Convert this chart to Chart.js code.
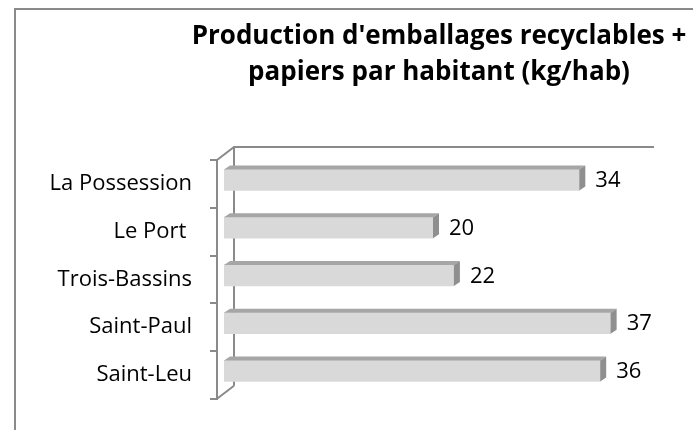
<!DOCTYPE html>
<html>
<head>
<meta charset="utf-8">
<script src="https://cdn.jsdelivr.net/npm/chart.js@4"></script>
<style>
  body { margin: 0; background: #fff; }
  canvas { display: block; }
</style>
</head>
<body>
<canvas id="chart" width="693" height="430"></canvas>
<script>
// données
const communes = ["La Possession", "Le Port ", "Trois-Bassins", "Saint-Paul", "Saint-Leu"];
const kgParHab = [34, 20, 22, 37, 36];
const titreLignes = ["Production d'emballages recyclables +", "papiers par habitant (kg/hab)"];
const axeMin = 0;
const axeMax = 40;

const gris = "#8a8a8a";
const barDepth = { dx: 7, dy: -4 };   // décalage des barres dans la profondeur
const faceDepth = { dx: 6, dy: 4 };   // épaisseur 3D des barres
const wallDepth = { dx: 17, dy: -13 }; // mur du fond

// -------------------------------
// cadre + titre
// -------------------------------
const framePlugin = {
    id: "frame",
    beforeDraw(chart) {
        const ctx = chart.ctx;
        ctx.save();
        ctx.fillStyle = "#fff";
        ctx.fillRect(0, 0, chart.width, chart.height);
        ctx.strokeStyle = gris;
        ctx.lineWidth = 2;
        ctx.strokeRect(15, 9, 800, 600);
        ctx.restore();
    },
    afterDraw(chart) {
        const ctx = chart.ctx;
        ctx.save();
        ctx.fillStyle = "#000";
        ctx.font = "bold 26px 'Open Sans'";
        ctx.textAlign = "center";
        ctx.textBaseline = "alphabetic";
        ctx.fillText(titreLignes[0], 439, 44, 504);
        ctx.fillText(titreLignes[1], 439, 80, 388);
        ctx.restore();
    }
};

// -------------------------------
// effet 3D : murs, faces des barres, étiquettes
// -------------------------------
const threeDPlugin = {
    id: "threeD",
    beforeDatasetsDraw(chart) {
        const ctx = chart.ctx;
        const a = chart.chartArea;
        ctx.save();
        ctx.strokeStyle = gris;
        ctx.lineWidth = 2;
        ctx.beginPath();
        // diagonales haut et bas
        ctx.moveTo(a.left, a.top);
        ctx.lineTo(a.left + wallDepth.dx, a.top + wallDepth.dy);
        ctx.lineTo(a.right + wallDepth.dx + 2, a.top + wallDepth.dy);
        ctx.moveTo(a.left, a.bottom);
        ctx.lineTo(a.left + wallDepth.dx, a.bottom + wallDepth.dy);
        // mur du fond
        ctx.moveTo(a.left + wallDepth.dx, a.top + wallDepth.dy);
        ctx.lineTo(a.left + wallDepth.dx, a.bottom + wallDepth.dy);
        ctx.stroke();
        ctx.restore();

        ctx.save();
        ctx.translate(barDepth.dx, barDepth.dy);
    },
    afterDatasetsDraw(chart) {
        const ctx = chart.ctx;
        const bars = chart.getDatasetMeta(0).data;
        bars.forEach(bar => {
            const p = bar.getProps(["x", "y", "base", "height"], true);
            const top = p.y - p.height / 2;
            const bottom = p.y + p.height / 2;
            // face du dessus
            ctx.fillStyle = "#a6a6a6";
            ctx.beginPath();
            ctx.moveTo(p.base, top);
            ctx.lineTo(p.base + faceDepth.dx, top - faceDepth.dy);
            ctx.lineTo(p.x + faceDepth.dx, top - faceDepth.dy);
            ctx.lineTo(p.x, top);
            ctx.closePath();
            ctx.fill();
            // face de côté
            ctx.fillStyle = "#8f8f8f";
            ctx.beginPath();
            ctx.moveTo(p.x, top);
            ctx.lineTo(p.x + faceDepth.dx, top - faceDepth.dy);
            ctx.lineTo(p.x + faceDepth.dx, bottom - faceDepth.dy);
            ctx.lineTo(p.x, bottom);
            ctx.closePath();
            ctx.fill();
        });
        ctx.restore();

        // valeurs
        ctx.save();
        ctx.fillStyle = "#000";
        ctx.font = "22px 'Open Sans'";
        ctx.textAlign = "left";
        ctx.textBaseline = "middle";
        bars.forEach((bar, i) => {
            const p = bar.getProps(["x", "y"], true);
            ctx.fillText(String(kgParHab[i]), p.x + barDepth.dx + 16, p.y + barDepth.dy + 1);
        });
        ctx.restore();
    }
};

new Chart(document.getElementById("chart"), {
    type: "bar",
    data: {
        labels: communes,
        datasets: [{
            data: kgParHab,
            backgroundColor: "#d9d9d9",
            borderWidth: 0,
            barThickness: 21
        }]
    },
    options: {
        indexAxis: "y",
        responsive: false,
        animation: false,
        layout: { padding: { top: 160, bottom: 27, left: 0, right: 58 } },
        plugins: {
            legend: { display: false },
            tooltip: { enabled: false },
            title: { display: false }
        },
        scales: {
            x: { display: false, min: axeMin, max: axeMax },
            y: {
                afterFit(scale) { scale.width = 217; },
                border: { display: true, color: gris, width: 2 },
                grid: { drawOnChartArea: false, tickLength: 7, color: gris, lineWidth: 2, offset: true },
                ticks: { color: "#000", font: { family: "'Open Sans'", size: 22 }, padding: 18 }
            }
        }
    },
    plugins: [framePlugin, threeDPlugin]
});
</script>
</body>
</html>
